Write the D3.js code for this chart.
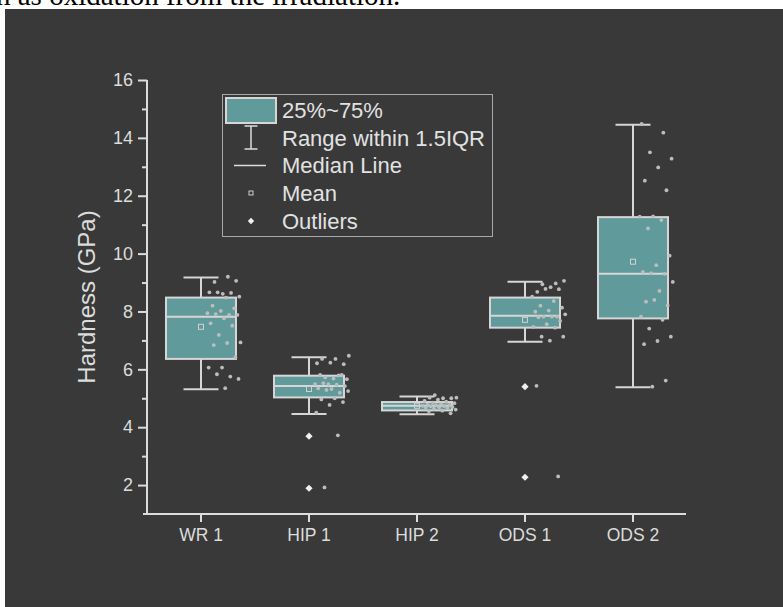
<!DOCTYPE html>
<html>
<head>
<meta charset="utf-8">
<script src="https://cdn.jsdelivr.net/npm/d3@7"></script>
<style>
  html, body { margin: 0; padding: 0; background: #ffffff; }
  svg { display: block; }
</style>
</head>
<body>
<svg id="chart" width="783" height="607"></svg>
<script>
// ---- data ----
const categories = ["WR 1", "HIP 1", "HIP 2", "ODS 1", "ODS 2"];
const q1         = [6.36, 5.03, 4.58, 7.44, 7.76];
const medians    = [7.82, 5.42, 4.74, 7.85, 9.30];
const q3         = [8.48, 5.78, 4.87, 8.48, 11.26];
const whiskerLow = [5.31, 4.46, 4.45, 6.95, 5.38];
const whiskerHigh= [9.17, 6.42, 5.06, 9.03, 14.45];
const means      = [7.47, 5.32, 4.74, 7.71, 9.72];
const outliers   = [[], [3.69, 1.89], [], [5.40, 2.27], []];

const pointsWR1  = [9.20, 9.02, 9.06, 8.61, 8.66, 8.64, 8.66, 8.51, 8.48, 8.20, 8.11, 8.02, 7.94, 7.88, 7.91,
                    7.88, 7.76, 7.59, 7.51, 7.19, 6.93, 6.91, 6.84, 6.42, 6.06, 6.06, 5.75, 5.83, 5.67, 5.35];
const pointsHIP1 = [6.47, 6.36, 6.36, 6.18, 6.23, 6.21, 5.79, 5.72, 5.66, 5.68, 5.81, 5.81, 5.49, 5.49, 5.47,
                    5.52, 5.42, 5.32, 5.34, 5.19, 5.29, 5.25, 5.00, 4.96, 4.87, 4.77, 4.50, 3.72, 1.92];
const pointsHIP2 = [5.11, 5.02, 5.00, 5.02, 5.00, 4.95, 4.91, 4.88, 4.85, 4.83, 4.80, 4.79, 4.77, 4.76, 4.74,
                    4.73, 4.72, 4.70, 4.69, 4.68, 4.66, 4.64, 4.61, 4.57, 4.55, 4.48];
const pointsODS1 = [8.97, 8.94, 9.06, 8.84, 8.68, 8.77, 8.78, 8.51, 8.36, 8.20, 8.13, 8.03, 7.99, 7.82, 7.82,
                    7.90, 7.82, 7.80, 7.67, 7.56, 7.47, 7.44, 7.13, 7.13, 6.99, 5.43, 2.30];
const pointsODS2 = [14.48, 14.18, 13.50, 13.28, 12.98, 12.52, 12.19, 11.29, 11.28, 11.16, 10.87, 9.93, 9.60,
                    9.37, 9.30, 9.32, 9.02, 8.71, 8.34, 8.21, 8.40, 7.82, 7.71, 7.41, 7.13, 6.98, 6.87, 5.61, 5.40];
const points = [pointsWR1, pointsHIP1, pointsHIP2, pointsODS1, pointsODS2];

const yMajorTicks = [2, 4, 6, 8, 10, 12, 14, 16];
const yMinorTicks = [3, 5, 7, 9, 11, 13, 15];
const legendLabels = ["25%~75%", "Range within 1.5IQR", "Median Line", "Mean", "Outliers"];

// ---- styles ----
const bg = "#393939";
const fg = "#dcdcdc";
const boxFill = "#609a9a";
const boxStroke = "#d6d6d6";
const dotFill = "#bdbdbd";
const font = "'Liberation Sans', Arial, sans-serif";

const svg = d3.select("#chart");

// document fragment above the panel
svg.append("text")
  .attr("x", -4).attr("y", 5)
  .attr("font-family", "'Liberation Serif', 'Times New Roman', serif")
  .attr("font-size", 29).attr("fill", "#000")
  .text("n as oxidation from the irradiation.");

// dark panel
svg.append("rect")
  .attr("x", 5).attr("y", 9).attr("width", 778).attr("height", 598)
  .attr("fill", bg);

// ---- scales ----
const y = d3.scaleLinear().domain([1, 16]).range([514, 80]);
const x = d3.scaleBand().domain(categories).range([147, 687]).padding(0);
const boxW = 70;
const half = boxW / 2;
const cx = c => x(c) + x.bandwidth() / 2;

// ---- axes ----
const yAxis = d3.axisLeft(y).tickValues(yMajorTicks).tickSize(9).tickPadding(5)
  .tickFormat(d3.format("d"));
const gy = svg.append("g").attr("transform", "translate(147,0)").call(yAxis);
gy.select(".domain").remove();
gy.selectAll(".tick line").attr("stroke", fg).attr("stroke-width", 2);
gy.selectAll(".tick text").attr("fill", fg).attr("font-family", font).attr("font-size", 18);

const yMinor = d3.axisLeft(y).tickValues(yMinorTicks).tickSize(5).tickFormat("");
const gym = svg.append("g").attr("transform", "translate(147,0)").call(yMinor);
gym.select(".domain").remove();
gym.selectAll(".tick line").attr("stroke", fg).attr("stroke-width", 2);

svg.append("line")
  .attr("x1", 147).attr("x2", 147).attr("y1", y(16)).attr("y2", y(1))
  .attr("stroke", fg).attr("stroke-width", 2);

const xAxis = d3.axisBottom(x).tickSize(8).tickPadding(7);
const gx = svg.append("g").attr("transform", "translate(0,514)").call(xAxis);
gx.select(".domain").remove();
gx.selectAll(".tick line").attr("stroke", fg).attr("stroke-width", 2);
gx.selectAll(".tick text").attr("fill", fg).attr("font-family", font).attr("font-size", 17.5);

svg.append("line")
  .attr("x1", 143).attr("x2", 686).attr("y1", y(1)).attr("y2", y(1))
  .attr("stroke", fg).attr("stroke-width", 2);

// axis title
svg.append("text")
  .attr("transform", "translate(95,297) rotate(-90)")
  .attr("text-anchor", "middle")
  .attr("font-family", font).attr("font-size", 24).attr("fill", fg)
  .text("Hardness (GPa)");

// ---- boxes ----
const rows = categories.map((c, i) => ({
  c, i, q1: q1[i], med: medians[i], q3: q3[i],
  lo: whiskerLow[i], hi: whiskerHigh[i], mean: means[i]
}));

const g = svg.append("g");

// whisker stems and caps
rows.forEach(r => {
  const X = cx(r.c);
  g.append("line").attr("x1", X).attr("x2", X).attr("y1", y(r.hi)).attr("y2", y(r.q3))
    .attr("stroke", boxStroke).attr("stroke-width", 2);
  g.append("line").attr("x1", X).attr("x2", X).attr("y1", y(r.q1)).attr("y2", y(r.lo))
    .attr("stroke", boxStroke).attr("stroke-width", 2);
  [r.hi, r.lo].forEach(v => {
    g.append("line").attr("x1", X - half / 2).attr("x2", X + half / 2)
      .attr("y1", y(v)).attr("y2", y(v))
      .attr("stroke", boxStroke).attr("stroke-width", 2);
  });
});

// interquartile boxes
g.selectAll("rect.box").data(rows).join("rect")
  .attr("class", "box")
  .attr("x", d => cx(d.c) - half)
  .attr("y", d => y(d.q3))
  .attr("width", boxW)
  .attr("height", d => y(d.q1) - y(d.q3))
  .attr("fill", boxFill).attr("stroke", boxStroke).attr("stroke-width", 2);

// median lines
g.selectAll("line.med").data(rows).join("line")
  .attr("class", "med")
  .attr("x1", d => cx(d.c) - half).attr("x2", d => cx(d.c) + half)
  .attr("y1", d => y(d.med)).attr("y2", d => y(d.med))
  .attr("stroke", boxStroke).attr("stroke-width", 2);

// raw data points, spread to the right of each box centre
const golden = 0.6180339887;
points.forEach((arr, k) => {
  const X = cx(categories[k]);
  g.selectAll(null).data(arr).join("circle")
    .attr("cx", (v, i) => X + half * (0.15 + 1.0 * (((i + 1) * golden + k * 0.37) % 1)))
    .attr("cy", v => y(v))
    .attr("r", 1.9)
    .attr("fill", dotFill);
});

// mean markers
g.selectAll("rect.mean").data(rows).join("rect")
  .attr("class", "mean")
  .attr("x", d => cx(d.c) - 2.5).attr("y", d => y(d.mean) - 2.5)
  .attr("width", 5).attr("height", 5)
  .attr("fill", "none").attr("stroke", "#d0d0d0").attr("stroke-width", 1);

// outliers: square diamonds
const diamond = d3.symbol().type(d3.symbolSquare).size(26);
outliers.forEach((arr, k) => {
  const X = cx(categories[k]);
  g.selectAll(null).data(arr).join("path")
    .attr("d", diamond)
    .attr("transform", v => `translate(${X},${y(v)}) rotate(45)`)
    .attr("fill", "#f0f0f0");
});

// ---- legend ----
const lg = svg.append("g");
lg.append("rect")
  .attr("x", 222.5).attr("y", 94.5).attr("width", 270).attr("height", 142)
  .attr("fill", "none").attr("stroke", "#a8a8a8").attr("stroke-width", 1);

const rowY = [110, 138, 165.5, 193, 221];
const symX = 251;

lg.append("rect").attr("x", 226).attr("y", 98).attr("width", 50).attr("height", 25)
  .attr("fill", boxFill).attr("stroke", boxStroke).attr("stroke-width", 2);

lg.append("line").attr("x1", symX).attr("x2", symX).attr("y1", 126).attr("y2", 149)
  .attr("stroke", fg).attr("stroke-width", 1.5);
[126, 149].forEach(v => lg.append("line")
  .attr("x1", symX - 6.5).attr("x2", symX + 6.5).attr("y1", v).attr("y2", v)
  .attr("stroke", fg).attr("stroke-width", 1.5));

lg.append("line").attr("x1", 234).attr("x2", 266).attr("y1", rowY[2]).attr("y2", rowY[2])
  .attr("stroke", fg).attr("stroke-width", 1.5);

lg.append("rect").attr("x", symX - 2).attr("y", rowY[3] - 2).attr("width", 4).attr("height", 4)
  .attr("fill", "none").attr("stroke", "#cfcfcf").attr("stroke-width", 1);

lg.append("path").attr("d", d3.symbol().type(d3.symbolSquare).size(20))
  .attr("transform", `translate(${symX},${rowY[4]}) rotate(45)`).attr("fill", "#f0f0f0");

lg.selectAll("text.lbl").data(legendLabels).join("text")
  .attr("class", "lbl")
  .attr("x", 282).attr("y", (d, i) => rowY[i])
  .attr("dy", "0.36em")
  .attr("font-family", font).attr("font-size", 22).attr("fill", "#e2e2e2")
  .text(d => d);
</script>
</body>
</html>
